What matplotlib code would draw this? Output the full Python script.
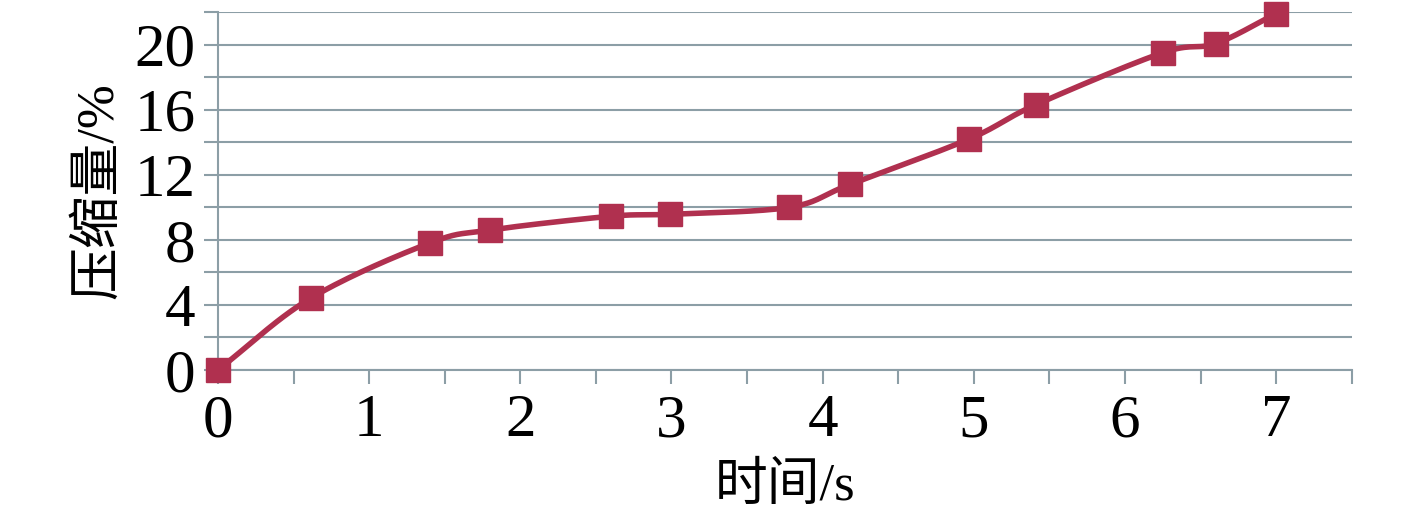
import numpy as np
import matplotlib
matplotlib.use("Agg")
import matplotlib.pyplot as plt
from matplotlib.ticker import MultipleLocator

plt.rcParams['font.family'] = ['Liberation Serif', 'Noto Sans CJK SC']

# 数据
time_s = [0, 0.615, 1.40, 1.80, 2.60, 2.99, 3.78, 4.18, 4.97, 5.41, 6.25, 6.60, 7.0]
compress = [0, 4.42, 7.8, 8.6, 9.45, 9.57, 10.0, 11.4, 14.2, 16.3, 19.5, 20.06, 21.9]
x_ticks = [0, 1, 2, 3, 4, 5, 6, 7]
y_ticks = [0, 4, 8, 12, 16, 20]


def smooth(xs, ys, n=30):
    # Catmull-Rom, как "сглаженная линия" в Excel
    xs = np.asarray(xs, float)
    ys = np.asarray(ys, float)
    px = np.concatenate([[2 * xs[0] - xs[1]], xs, [2 * xs[-1] - xs[-2]]])
    py = np.concatenate([[2 * ys[0] - ys[1]], ys, [2 * ys[-1] - ys[-2]]])
    outx, outy = [], []
    t = np.linspace(0, 1, n)
    for i in range(1, len(px) - 2):
        for p, out in ((px, outx), (py, outy)):
            p0, p1, p2, p3 = p[i - 1], p[i], p[i + 1], p[i + 2]
            out.extend(0.5 * (2 * p1 + (-p0 + p2) * t
                              + (2 * p0 - 5 * p1 + 4 * p2 - p3) * t ** 2
                              + (-p0 + 3 * p1 - 3 * p2 + p3) * t ** 3))
    return outx, outy


grid_c = '#8c9ea6'
line_c = '#b0304f'

fig = plt.figure(figsize=(14.17, 5.12), dpi=100)
ax = fig.add_axes([0.1538, 0.2773, 0.954 - 0.1538, 0.9766 - 0.2773])

sx, sy = smooth(time_s, compress)
ax.plot(sx, sy, color=line_c, lw=4, zorder=3, clip_on=False)
ax.plot(time_s, compress, 's', color=line_c, markersize=17, zorder=4, clip_on=False)

ax.set_xlim(0, 7.5)
ax.set_ylim(0, 22)
ax.set_xticks(x_ticks)
ax.xaxis.set_minor_locator(MultipleLocator(0.5))
ax.set_yticks(y_ticks)
ax.yaxis.set_minor_locator(MultipleLocator(2))
ax.grid(True, axis='y', which='both', color=grid_c, lw=1.5)
ax.set_axisbelow(True)

for s in ['top', 'right']:
    ax.spines[s].set_visible(False)
for s in ['left', 'bottom']:
    ax.spines[s].set_color(grid_c)
    ax.spines[s].set_linewidth(1.5)

ax.tick_params(axis='x', which='both', direction='out', length=10, width=1.5,
               color=grid_c, labelsize=44, pad=7)
ax.tick_params(axis='y', which='both', direction='out', length=10, width=1.5,
               color=grid_c, labelsize=44, pad=6)

ax.set_xlabel('时间/s', fontsize=38, labelpad=10)
ax.set_ylabel('压缩量/%', fontsize=38, labelpad=8)

fig.savefig('out.png', dpi=100)
